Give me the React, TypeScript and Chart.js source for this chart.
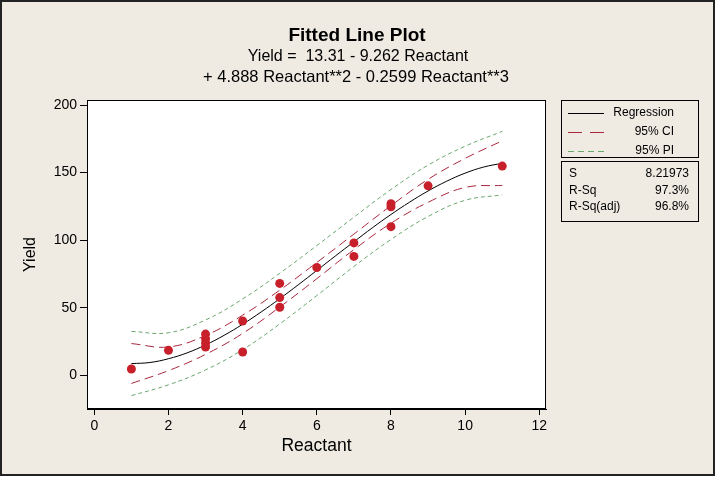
import { useEffect, useRef } from "react";
import { Chart, registerables } from "chart.js";
import type { Plugin } from "chart.js";

Chart.register(...registerables);

// observed data
const reactant = [1, 2, 3, 3, 3, 3, 4, 4, 5, 5, 5, 6, 7, 7, 8, 8, 8, 9, 11];
const yieldValues = [4.7, 18.5, 30.5, 27, 24, 21, 40.2, 17.3, 68, 57.5, 50.4, 79.8, 98, 88, 127, 124.7, 110, 140.2, 154.8];

// fitted curve
const fitX = [1, 1.5, 2, 2.5, 3, 3.5, 4, 4.5, 5, 5.5, 6, 6.5, 7, 7.5, 8, 8.5, 9, 9.5, 10, 10.5, 11];
const fitY = [8.7, 9.5, 12.3, 16.6, 22.5, 29.6, 37.8, 46.9, 56.7, 67.0, 77.6, 88.3, 98.8, 109.2, 119.0, 128.1, 136.4, 143.6, 149.6, 154.1, 156.9];

// confidence / prediction bands
const bandX = [1, 2, 3, 4, 5, 6, 7, 8, 9, 10, 11];
const ciUpper = [23.5, 21, 29.5, 44.5, 63, 83.5, 104.5, 125.5, 145, 160.5, 173.5];
const ciLower = [-6, 3.5, 15.5, 31, 50.5, 71.5, 93, 112.5, 128, 139, 140.5];
const piUpper = [32.5, 31.5, 41, 56.5, 75.5, 96, 117, 137.5, 155.5, 169.5, 180.5];
const piLower = [-15, -7, 4, 19, 38, 59, 80.5, 100.5, 117.5, 129.5, 133.5];

const legendItems = ["Regression", "95% CI", "95% PI"];
const statNames = ["S", "R-Sq", "R-Sq(adj)"];
const statValues = ["8.21973", "97.3%", "96.8%"];

const titleLines = [
    "Fitted Line Plot",
    "Yield =  13.31 - 9.262 Reactant",
    "+ 4.888 Reactant**2 - 0.2599 Reactant**3",
];

const FONT = '"Liberation Sans", Arial, sans-serif';
const BG = "#EFEBE2";
const CI_COLOR = "#A8283C";
const PI_COLOR = "#6AA870";
const POINT_COLOR = "#C8202A";

const toXY = (xs: number[], ys: number[]) => xs.map((x, i) => ({ x, y: ys[i] }));

const decorations: Plugin<"scatter"> = {
    id: "decorations",
    beforeDraw(chart) {
        const { ctx, chartArea } = chart;
        ctx.save();
        ctx.fillStyle = "#ffffff";
        ctx.fillRect(0, 0, chart.width, chart.height);
        ctx.fillStyle = BG;
        ctx.fillRect(1, 1, 713, 474);
        ctx.fillStyle = "#ffffff";
        ctx.fillRect(chartArea.left, chartArea.top, chartArea.right - chartArea.left, chartArea.bottom - chartArea.top);
        ctx.restore();
    },
    afterDraw(chart) {
        const { ctx, chartArea } = chart;
        ctx.save();

        // plot frame
        ctx.strokeStyle = "#000";
        ctx.lineWidth = 1;
        ctx.strokeRect(chartArea.left + 0.5, chartArea.top + 0.5, chartArea.right - chartArea.left - 1, chartArea.bottom - chartArea.top - 1);

        // outer border
        ctx.strokeStyle = "#222";
        ctx.lineWidth = 2;
        ctx.strokeRect(1, 1, 713, 474);

        // titles
        ctx.fillStyle = "#000";
        ctx.textAlign = "center";
        ctx.textBaseline = "middle";
        ctx.font = `bold 19px ${FONT}`;
        ctx.fillText(titleLines[0], 357, 36);
        ctx.font = `16px ${FONT}`;
        ctx.fillText(titleLines[1], 358, 57);
        ctx.font = `16.5px ${FONT}`;
        ctx.fillText(titleLines[2], 356, 77);

        // legend box
        ctx.lineWidth = 1;
        ctx.strokeStyle = "#000";
        ctx.strokeRect(561.5, 100.5, 137, 57);
        ctx.strokeRect(561.5, 161.5, 137, 60);

        const rows = [113, 132, 151];
        const styles = [
            { color: "#000", dash: [] as number[] },
            { color: CI_COLOR, dash: [14, 8] },
            { color: PI_COLOR, dash: [6, 4] },
        ];
        ctx.font = `12px ${FONT}`;
        ctx.textAlign = "right";
        legendItems.forEach((label, i) => {
            ctx.beginPath();
            ctx.setLineDash(styles[i].dash);
            ctx.strokeStyle = styles[i].color;
            ctx.moveTo(568, rows[i] + 0.5);
            ctx.lineTo(604, rows[i] + 0.5);
            ctx.stroke();
            ctx.fillText(label, 674, rows[i]);
        });
        ctx.setLineDash([]);

        const statRows = [174, 190.5, 207];
        statNames.forEach((name, i) => {
            ctx.textAlign = "left";
            ctx.fillText(name, 569, statRows[i]);
            ctx.textAlign = "right";
            ctx.fillText(statValues[i], 689, statRows[i]);
        });

        ctx.restore();
    },
};

export default function App() {
    const canvasRef = useRef<HTMLCanvasElement | null>(null);
    const chartRef = useRef<Chart<"scatter"> | null>(null);

    useEffect(() => {
        const canvas = canvasRef.current;
        if (!canvas) {
            return;
        }
        if (chartRef.current) {
            chartRef.current.destroy();
        }

        Chart.defaults.font.family = FONT;
        Chart.defaults.color = "#000";

        chartRef.current = new Chart(canvas, {
            type: "scatter",
            data: {
                datasets: [
                    {
                        label: "Data",
                        data: toXY(reactant, yieldValues),
                        backgroundColor: POINT_COLOR,
                        borderColor: POINT_COLOR,
                        pointRadius: 4.5,
                        borderWidth: 0,
                    },
                    {
                        label: "Regression",
                        data: toXY(fitX, fitY),
                        showLine: true,
                        borderColor: "#000",
                        borderWidth: 1,
                        pointRadius: 0,
                        tension: 0.4,
                    },
                    {
                        label: "95% CI upper",
                        data: toXY(bandX, ciUpper),
                        showLine: true,
                        borderColor: CI_COLOR,
                        borderDash: [9, 5],
                        borderWidth: 1,
                        pointRadius: 0,
                        tension: 0.4,
                    },
                    {
                        label: "95% CI lower",
                        data: toXY(bandX, ciLower),
                        showLine: true,
                        borderColor: CI_COLOR,
                        borderDash: [9, 5],
                        borderWidth: 1,
                        pointRadius: 0,
                        tension: 0.4,
                    },
                    {
                        label: "95% PI upper",
                        data: toXY(bandX, piUpper),
                        showLine: true,
                        borderColor: PI_COLOR,
                        borderDash: [4, 3],
                        borderWidth: 1,
                        pointRadius: 0,
                        tension: 0.4,
                    },
                    {
                        label: "95% PI lower",
                        data: toXY(bandX, piLower),
                        showLine: true,
                        borderColor: PI_COLOR,
                        borderDash: [4, 3],
                        borderWidth: 1,
                        pointRadius: 0,
                        tension: 0.4,
                    },
                ],
            },
            options: {
                responsive: false,
                animation: false,
                layout: { padding: { left: 0, top: 100, right: 171, bottom: 0 } },
                scales: {
                    x: {
                        type: "linear",
                        position: "bottom",
                        min: -0.197,
                        max: 12.18,
                        afterFit: (scale) => {
                            scale.height = 70;
                        },
                        ticks: {
                            stepSize: 2,
                            includeBounds: false,
                            color: "#000",
                            font: { size: 14 },
                            padding: 3,
                        },
                        grid: {
                            drawOnChartArea: false,
                            tickLength: 6,
                            color: "#000",
                        },
                        border: { display: true, color: "#000" },
                        title: {
                            display: true,
                            text: "Reactant",
                            color: "#000",
                            font: { size: 17.5 },
                            padding: { top: 0, bottom: 22 },
                        },
                    },
                    y: {
                        type: "linear",
                        min: -24.9,
                        max: 203.7,
                        afterFit: (scale) => {
                            scale.width = 87;
                        },
                        ticks: {
                            stepSize: 50,
                            includeBounds: false,
                            color: "#000",
                            font: { size: 14 },
                            padding: 3,
                        },
                        grid: {
                            drawOnChartArea: false,
                            tickLength: 7,
                            color: "#000",
                        },
                        border: { display: true, color: "#000" },
                        title: {
                            display: true,
                            text: "Yield",
                            color: "#000",
                            font: { size: 16 },
                            padding: { top: 21, bottom: 0 },
                        },
                    },
                },
                plugins: {
                    legend: { display: false },
                    tooltip: { enabled: false },
                },
            },
            plugins: [decorations],
        });

        return () => {
            if (chartRef.current) {
                chartRef.current.destroy();
                chartRef.current = null;
            }
        };
    }, []);

    return (
        <div style={{ position: "fixed", left: 0, top: 0, width: 717, height: 479 }}>
            <canvas ref={canvasRef} width={717} height={479} style={{ display: "block" }} />
        </div>
    );
}
